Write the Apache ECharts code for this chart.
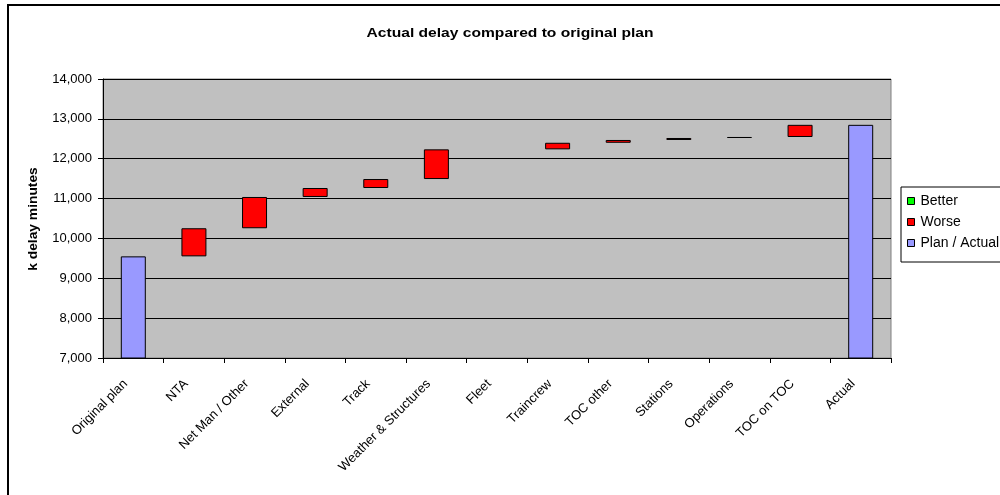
<!DOCTYPE html>
<html>
<head>
<meta charset="utf-8">
<title>Actual delay compared to original plan</title>
<script src="https://cdn.jsdelivr.net/npm/echarts@6/dist/echarts.min.js"></script>
<style>
  html, body { margin: 0; padding: 0; background: #fff; }
  #chart { width: 1000px; height: 495px; }
</style>
</head>
<body>
<div id="chart"></div>
<script>
// Waterfall of delay minutes (thousands): plan -> contributions -> actual
const categories = ['Original plan', 'NTA', 'Net Man / Other', 'External', 'Track',
  'Weather & Structures', 'Fleet', 'Traincrew', 'TOC other', 'Stations',
  'Operations', 'TOC on TOC', 'Actual'];

// Change contributed by each cause (null for the plan / actual columns)
const deltas = [null, 705, 785, 225, 225, 745, 0, 165, 70, 50, 25, 305, null];

// Plan and actual totals
const originalPlan = 9550;
const actualTotal = 12850;

const yTicks = { min: 7000, max: 14000, interval: 1000 };

// Build the stacked series: invisible base + better (decrease) + worse (increase) + totals
const baseData = [], betterData = [], worseData = [], totalData = [];
let running = originalPlan;
categories.forEach((c, i) => {
  const d = deltas[i];
  if (d === null) {
    baseData.push(0);
    betterData.push('-');
    worseData.push('-');
    totalData.push(i === 0 ? originalPlan : actualTotal);
  } else {
    if (d >= 0) {
      baseData.push(running);
      worseData.push(d > 0 ? d : '-');
      betterData.push('-');
    } else {
      baseData.push(running + d);
      betterData.push(-d);
      worseData.push('-');
    }
    totalData.push('-');
    running += d;
  }
});

const FONT = '"Liberation Sans", Arial, sans-serif';
const chart = echarts.init(document.getElementById('chart'), null, { renderer: 'canvas' });

const barStyle = (color) => ({ color: color, borderColor: '#000', borderWidth: 1 });

chart.setOption({
  animation: false,
  backgroundColor: '#fff',
  textStyle: { fontFamily: FONT },
  graphic: [
    { type: 'rect', shape: { x: 8, y: 5, width: 1100, height: 600 },
      style: { fill: 'none', stroke: '#000', lineWidth: 2 }, silent: true },
    { type: 'text', x: 510, y: 33, scaleX: 1.2,
      style: { text: 'Actual delay compared to original plan', font: 'bold 13px ' + FONT,
        fill: '#000', textAlign: 'center', textVerticalAlign: 'middle' } },
    { type: 'text', x: 34, y: 219, rotation: Math.PI / 2, scaleX: 1.15,
      style: { text: 'k delay minutes', font: 'bold 12px ' + FONT,
        fill: '#000', textAlign: 'center', textVerticalAlign: 'middle' } }
  ],
  grid: {
    left: 103, right: 109, top: 79, bottom: 137,
    show: true, backgroundColor: '#C0C0C0', borderColor: '#808080', borderWidth: 1
  },
  legend: {
    orient: 'vertical',
    left: 901, top: 187,
    padding: [7, 40, 12, 6],
    itemGap: 7,
    itemWidth: 7, itemHeight: 7,
    borderColor: '#000', borderWidth: 1,
    backgroundColor: '#fff',
    icon: 'rect',
    itemStyle: { borderColor: '#000', borderWidth: 1 },
    textStyle: { fontFamily: FONT, fontSize: 14, color: '#000', padding: [0, 0, 0, 1] },
    data: ['Better', 'Worse', 'Plan / Actual']
  },
  xAxis: {
    type: 'category',
    data: categories,
    boundaryGap: true,
    axisLine: { lineStyle: { color: '#000', width: 1 } },
    axisTick: { show: true, length: 5, lineStyle: { color: '#000' } },
    axisLabel: {
      rotate: 45, interval: 0, margin: 16, padding: [0, 11, 0, 0],
      fontFamily: FONT, fontSize: 13, color: '#000'
    },
    splitLine: { show: false }
  },
  yAxis: {
    type: 'value',
    min: yTicks.min, max: yTicks.max, interval: yTicks.interval,
    axisLine: { show: true, lineStyle: { color: '#000', width: 1 } },
    axisTick: { show: true, length: 5, lineStyle: { color: '#000' } },
    axisLabel: {
      margin: 11, fontFamily: FONT, fontSize: 13, color: '#000',
      formatter: (v) => v.toLocaleString('en-US')
    },
    splitLine: { show: true, lineStyle: { color: '#000', width: 1 } }
  },
  series: [
    { name: 'base', type: 'bar', stack: 'wf', barWidth: 25, silent: true,
      itemStyle: { color: 'transparent', borderColor: 'transparent' }, data: baseData },
    { name: 'Better', type: 'bar', stack: 'wf', barWidth: 25,
      itemStyle: barStyle('#00FF00'), data: betterData },
    { name: 'Worse', type: 'bar', stack: 'wf', barWidth: 25,
      itemStyle: barStyle('#FF0000'), data: worseData },
    { name: 'Plan / Actual', type: 'bar', stack: 'wf', barWidth: 25,
      itemStyle: barStyle('#9999FF'), data: totalData }
  ]
});
</script>
</body>
</html>
